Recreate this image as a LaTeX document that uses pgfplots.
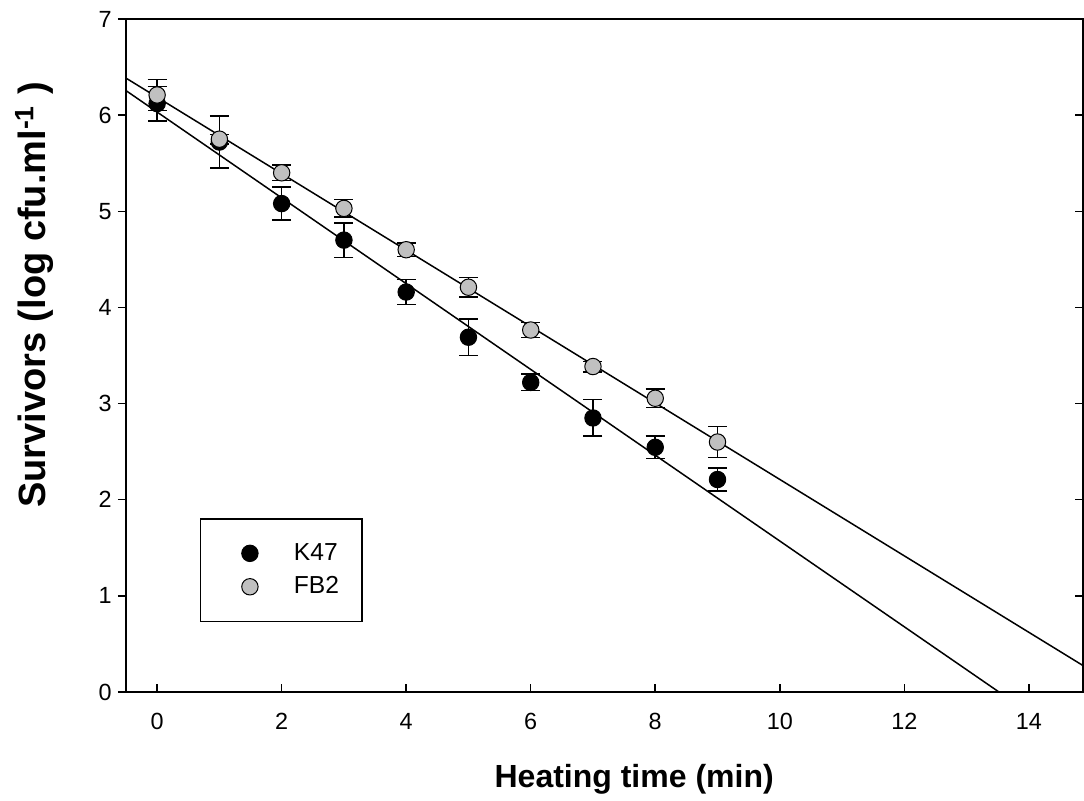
\documentclass[border=0pt]{standalone}
\usepackage{pgfplots}
\pgfplotsset{compat=1.18}
\usepackage{fontspec}
\setmainfont{Liberation Sans}
\definecolor{fbgray}{RGB}{192,192,192}

\begin{document}
\begin{tikzpicture}
% inner ticks on bottom and right, data and legend
\begin{axis}[
    name=ax,
    scale only axis, width=478.5pt, height=336.5pt,
    xmin=-0.5, xmax=14.87, ymin=0, ymax=7,
    xtick={0,2,...,14}, ytick={0,...,7},
    xtick pos=bottom, ytick pos=right, yticklabels={},
    tick align=inside, major tick length=4pt,
    axis line style={line width=0.75pt},
    tick style={line width=0.75pt, black},
    /pgf/number format/assume math mode=true,
    xticklabel style={font=\fontsize{11.7}{14}\selectfont, yshift=-7pt},
    xlabel={\fontsize{16}{19}\selectfont\bfseries Heating time (min)},
    xlabel style={at={(axis description cs:0.531,-0.1426)}, anchor=base, inner sep=0pt},
    ylabel={\fontsize{19}{22}\selectfont\bfseries Survivors (log cfu.ml\textsuperscript{-1} )},
    ylabel style={at={(axis description cs:-0.0836,0.59)}, anchor=base, rotate=0, inner sep=0pt},
    legend style={at={(rel axis cs:0.0773,0.2585)}, anchor=north west,
        draw=black, line width=0.75pt, inner xsep=20.5pt, inner ysep=12.3pt,
        row sep=6.7pt, column sep=17.9pt,
        font=\fontsize{12.3}{14}\selectfont, nodes={inner sep=0pt}},
    legend cell align=left,
]
\addplot[black, line width=0.75pt, forget plot] coordinates {(-0.5,6.255) (13.52,0)};
\addplot[black, line width=0.75pt, forget plot] coordinates {(-0.5,6.385) (14.87,0.275)};

\addplot[black, only marks, mark=*, mark size=4.1pt,
    mark options={fill=black, draw=black, line width=0.5pt},
    error bars/.cd, y dir=both, y explicit,
    error bar style={line width=0.75pt, black},
    error mark options={rotate=90, mark size=4.75pt, line width=0.75pt, black}]
  coordinates {
    (0,6.12) +- (0,0.18)
    (1,5.72) +- (0,0.27)
    (2,5.08) +- (0,0.17)
    (3,4.70) +- (0,0.18)
    (4,4.16) +- (0,0.13)
    (5,3.69) +- (0,0.19)
    (6,3.22) +- (0,0.085)
    (7,2.85) +- (0,0.19)
    (8,2.545) +- (0,0.115)
    (9,2.21) +- (0,0.12)
  };
\addplot[black, only marks, mark=*, mark size=4.1pt,
    mark options={fill=fbgray, draw=black, line width=0.5pt},
    error bars/.cd, y dir=both, y explicit,
    error bar style={line width=0.75pt, black},
    error mark options={rotate=90, mark size=4.75pt, line width=0.75pt, black}]
  coordinates {
    (0,6.21) +- (0,0.16)
    (1,5.75) +- (0,0.05)
    (2,5.40) +- (0,0.08)
    (3,5.03) +- (0,0.09)
    (4,4.60) +- (0,0.07)
    (5,4.21) +- (0,0.10)
    (6,3.765) +- (0,0.08)
    (7,3.385) +- (0,0.055)
    (8,3.055) +- (0,0.095)
    (9,2.60) +- (0,0.16)
  };
\legend{\makebox[13.5pt][l]{K47}, \makebox[13.5pt][l]{FB2}}
\end{axis}

% outer ticks and labels on the left
\begin{axis}[
    scale only axis, width=478.5pt, height=336.5pt,
    xmin=-0.5, xmax=14.87, ymin=0, ymax=7,
    hide x axis, axis y line*=left,
    ytick={0,...,7}, tick align=outside, major tick length=4pt,
    axis line style={line width=0.75pt},
    tick style={line width=0.75pt, black},
    /pgf/number format/assume math mode=true,
    yticklabel style={font=\fontsize{11.7}{14}\selectfont, inner xsep=3pt},
]
\end{axis}

\pgfresetboundingbox
\path[use as bounding box] ([shift={(-63pt,-54.5pt)}]ax.south west)
    rectangle ([shift={(479pt,346pt)}]ax.south west);
\end{tikzpicture}
\end{document}
